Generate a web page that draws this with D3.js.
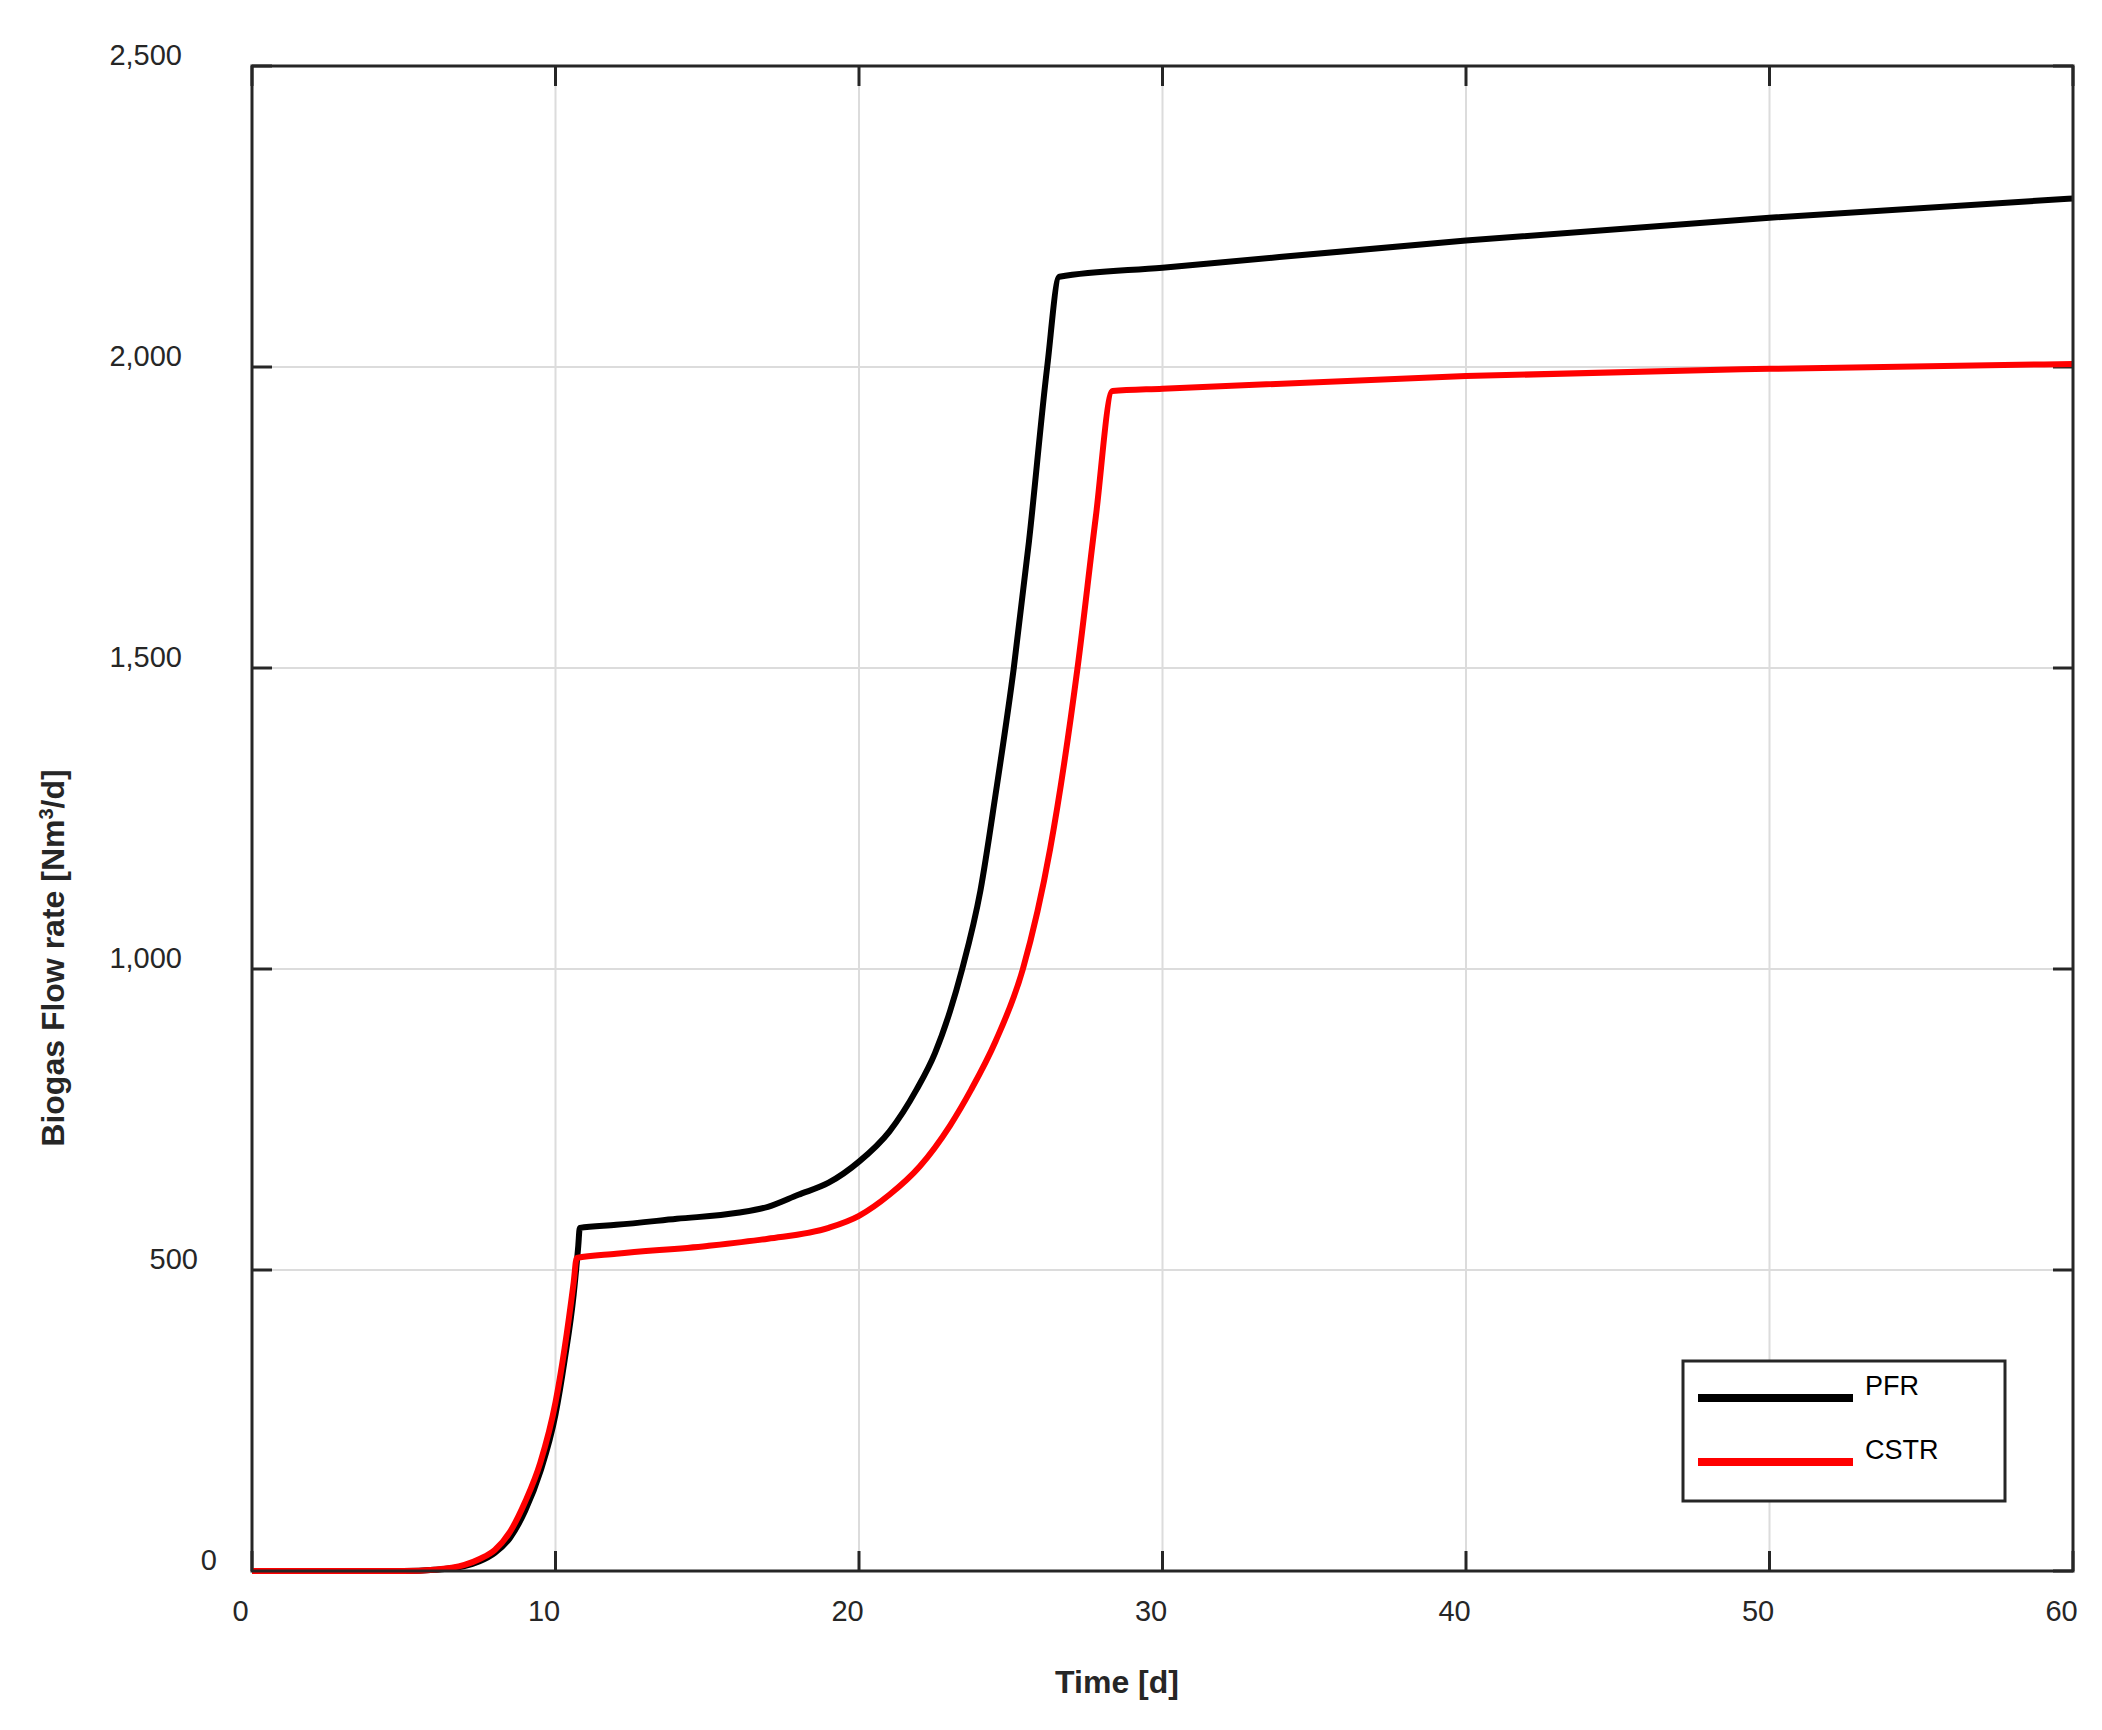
<!DOCTYPE html>
<html><head><meta charset="utf-8"><script src="https://cdn.jsdelivr.net/npm/d3@7"></script>
<style>body{margin:0;background:#fff}text{font-family:"Liberation Sans",Arial,sans-serif}</style></head>
<body><svg id="c" width="2102" height="1730"></svg>
<script>
const xTicks=[0,10,20,30,40,50,60];
const yTicks=[0,500,1000,1500,2000,2500];
const pfrT=[0,5,6,7,7.5,8,8.5,9,9.5,10,10.3,10.6,10.75,10.8,12,14,16,17,18,19,20,21,21.9,22.5,23,23.4,24,24.5,25.1,25.6,26.2,26.6,30,40,50,60];
const pfrV=[0,0,2,8,16,30,55,100,165,260,350,460,540,570,575,585,595,605,625,645,680,730,800,860,930,1000,1130,1290,1500,1710,2000,2150,2165,2210,2248,2280];
const cstrT=[0,5,6,7,7.5,8,8.5,9,9.5,10,10.3,10.6,10.7,12,15,17,19,20,21,22,23,23.7,24.5,25.4,26.3,27.2,27.8,28.35,30,40,50,60];
const cstrV=[0,0,2,10,20,35,65,115,180,280,370,480,520,527,540,552,570,590,625,672,740,800,880,1000,1200,1500,1750,1960,1964,1985,1997,2005];
const series=[{name:"PFR",t:pfrT,v:pfrV,color:"#000"},{name:"CSTR",t:cstrT,v:cstrV,color:"#ff0000"}];
const svg=d3.select("#c");
const L=252,R=2073,T=66,B=1571;
const x=d3.scaleLinear().domain([0,60]).range([L,R]);
const y=d3.scaleLinear().domain([0,2500]).range([B,T]);
const g=svg.append("g");
xTicks.forEach(t=>g.append("line").attr("x1",x(t)).attr("x2",x(t)).attr("y1",T).attr("y2",B).attr("stroke","#dcdcdc").attr("stroke-width",2));
yTicks.forEach(t=>g.append("line").attr("y1",y(t)).attr("y2",y(t)).attr("x1",L).attr("x2",R).attr("stroke","#dcdcdc").attr("stroke-width",2));
const ax=d3.axisBottom(x).tickValues(xTicks).tickSize(0).tickPadding(0);
const axG=svg.append("g").attr("transform",`translate(-12,${B+50})`).call(ax);
axG.select(".domain").remove();
axG.selectAll("text").attr("font-size",29).attr("fill","#262626").attr("dy","0");
const ay=d3.axisLeft(y).tickValues(yTicks).tickSize(0).tickPadding(0);
const ayG=svg.append("g").attr("transform",`translate(182,-12)`).call(ay);
ayG.select(".domain").remove();
ayG.selectAll("text").attr("font-size",29).attr("fill","#262626").attr("dy","0.35em")
 .attr("x",d=>d===0?35:(d===500?16:0));
// inward ticks
xTicks.forEach(t=>{[[B,B-20],[T,T+20]].forEach(([a,b])=>g.append("line").attr("x1",x(t)).attr("x2",x(t)).attr("y1",a).attr("y2",b).attr("stroke","#262626").attr("stroke-width",3));});
yTicks.forEach(t=>{[[L,L+20],[R,R-20]].forEach(([a,b])=>g.append("line").attr("y1",y(t)).attr("y2",y(t)).attr("x1",a).attr("x2",b).attr("stroke","#262626").attr("stroke-width",3));});
const line=d3.line().x(d=>x(d[0])).y(d=>y(d[1])).curve(d3.curveMonotoneX);
series.forEach(s=>svg.append("path").attr("d",line(s.t.map((t,i)=>[t,s.v[i]]))).attr("fill","none").attr("stroke",s.color).attr("stroke-width",6));
svg.append("rect").attr("x",L).attr("y",T).attr("width",R-L).attr("height",B-T).attr("fill","none").attr("stroke","#262626").attr("stroke-width",3);
// legend
const lg=svg.append("g");
lg.append("rect").attr("x",1683).attr("y",1361).attr("width",322).attr("height",140).attr("fill","#fff").attr("stroke","#262626").attr("stroke-width",3);
series.forEach((s,i)=>{
 lg.append("line").attr("x1",1698).attr("x2",1853).attr("y1",1398+i*64).attr("y2",1398+i*64).attr("stroke",s.color).attr("stroke-width",8);
 lg.append("text").attr("x",1865).attr("y",1395+i*64).attr("font-size",27).attr("fill","#000").text(s.name);
});
svg.append("text").attr("x",1117).attr("y",1693).attr("text-anchor","middle").attr("font-size",32).attr("font-weight","bold").attr("fill","#262626").text("Time [d]");
svg.append("text").attr("transform","translate(64,958) rotate(-90)").attr("text-anchor","middle").attr("font-size",32).attr("font-weight","bold").attr("fill","#262626")
 .html('Biogas Flow rate [Nm<tspan baseline-shift="super" font-size="20">3</tspan>/d]');
</script></body></html>
